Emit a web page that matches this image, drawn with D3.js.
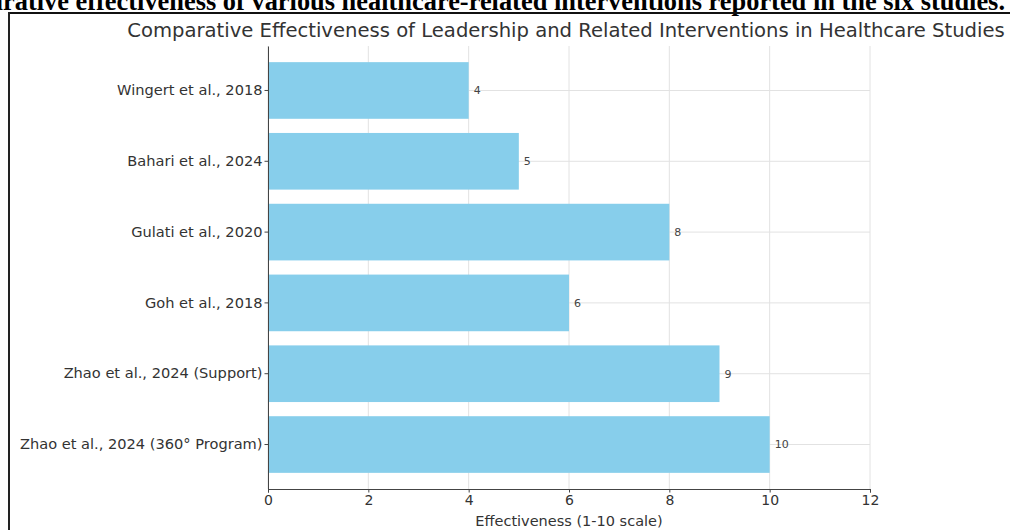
<!DOCTYPE html>
<html>
<head>
<meta charset="utf-8">
<script src="https://cdn.jsdelivr.net/npm/d3@7"></script>
<style>
  body { margin: 0; background: #fff; }
  svg { display: block; }
  .tick text { font-family: "DejaVu Sans", sans-serif; fill: #333; }
</style>
</head>
<body>
<div id="chart"></div>
<script>
// studies, listed top to bottom as in the figure
var studies = [
  'Wingert et al., 2018',
  'Bahari et al., 2024',
  'Gulati et al., 2020',
  'Goh et al., 2018',
  'Zhao et al., 2024 (Support)',
  'Zhao et al., 2024 (360° Program)'
];
var effectiveness = [4, 5, 8, 6, 9, 10];
var xTicks = [0, 2, 4, 6, 8, 10, 12];

var caption = 'Comparative effectiveness of various healthcare-related interventions reported in the six studies.';
var title = 'Comparative Effectiveness of Leadership and Related Interventions in Healthcare Studies';
var xLabel = 'Effectiveness (1-10 scale)';

var rows = studies.map(function(s, i) { return { name: s, value: effectiveness[i] }; });

var width = 1010;
var height = 530;
var margin = { top: 46, right: 140, bottom: 41, left: 268 };

var svg = d3.select('#chart').append('svg')
  .attr('width', width)
  .attr('height', height);

// caption above the frame, cut by the top of the page
svg.append('text')
  .attr('x', 1005)
  .attr('y', 10)
  .attr('text-anchor', 'end')
  .style('font-family', '"Liberation Serif", "Times New Roman", serif')
  .style('font-weight', 'bold')
  .style('font-size', '26.4px')
  .style('fill', '#000')
  .text(caption);

// frame
svg.append('line')
  .attr('x1', 8).attr('x2', width)
  .attr('y1', 13).attr('y2', 13)
  .attr('stroke', '#111').attr('stroke-width', 2);
svg.append('line')
  .attr('x1', 9).attr('x2', 9)
  .attr('y1', 12).attr('y2', height)
  .attr('stroke', '#222').attr('stroke-width', 2);

var x = d3.scaleLinear()
  .domain([0, 12])
  .range([margin.left, width - margin.right]);

var y = d3.scaleBand()
  .domain(studies)
  .range([margin.top, height - margin.bottom])
  .paddingInner(0.2)
  .paddingOuter(0.228);

var grid = svg.append('g').attr('class', 'grid');
grid.selectAll('line.vgrid').data(xTicks)
  .enter().append('line')
  .attr('class', 'vgrid')
  .attr('x1', function(d) { return x(d); })
  .attr('x2', function(d) { return x(d); })
  .attr('y1', margin.top)
  .attr('y2', height - margin.bottom)
  .attr('stroke', '#e2e2e2')
  .attr('stroke-width', 1);
grid.selectAll('line.hgrid').data(studies)
  .enter().append('line')
  .attr('class', 'hgrid')
  .attr('x1', x(0))
  .attr('x2', x(12))
  .attr('y1', function(d) { return y(d) + y.bandwidth() / 2; })
  .attr('y2', function(d) { return y(d) + y.bandwidth() / 2; })
  .attr('stroke', '#e2e2e2')
  .attr('stroke-width', 1);

svg.append('g').selectAll('rect').data(rows)
  .enter().append('rect')
  .attr('x', x(0))
  .attr('y', function(d) { return y(d.name); })
  .attr('width', function(d) { return x(d.value) - x(0); })
  .attr('height', y.bandwidth())
  .attr('fill', '#87ceeb');

svg.append('g').selectAll('text.value').data(rows)
  .enter().append('text')
  .attr('class', 'value')
  .attr('x', function(d) { return x(d.value) + 5; })
  .attr('y', function(d) { return y(d.name) + y.bandwidth() / 2; })
  .attr('dy', '0.35em')
  .style('font-family', '"DejaVu Sans", sans-serif')
  .style('font-size', '11px')
  .style('fill', '#444')
  .text(function(d) { return d.value; });

var xAxis = svg.append('g')
  .attr('transform', 'translate(0,' + (height - margin.bottom) + ')')
  .call(d3.axisBottom(x).tickValues(xTicks).tickSize(3.5).tickPadding(2.5));
xAxis.selectAll('text').style('font-size', '14px');
xAxis.select('.domain').attr('stroke', '#444');
xAxis.selectAll('.tick line').attr('stroke', '#444');

var yAxis = svg.append('g')
  .attr('transform', 'translate(' + margin.left + ',0)')
  .call(d3.axisLeft(y).tickSize(3.5).tickPadding(2).tickSizeOuter(0));
yAxis.selectAll('text').style('font-size', '14.6px');
yAxis.select('.domain').attr('stroke', '#444');
yAxis.selectAll('.tick line').attr('stroke', '#444');

svg.append('text')
  .attr('x', (x(0) + x(12)) / 2)
  .attr('y', 526)
  .attr('text-anchor', 'middle')
  .style('font-family', '"DejaVu Sans", sans-serif')
  .style('font-size', '14.5px')
  .style('fill', '#333')
  .text(xLabel);

svg.append('text')
  .attr('x', 566)
  .attr('y', 37)
  .attr('text-anchor', 'middle')
  .style('font-family', '"DejaVu Sans", sans-serif')
  .style('font-size', '19.6px')
  .style('fill', '#333')
  .text(title);
</script>
</body>
</html>
